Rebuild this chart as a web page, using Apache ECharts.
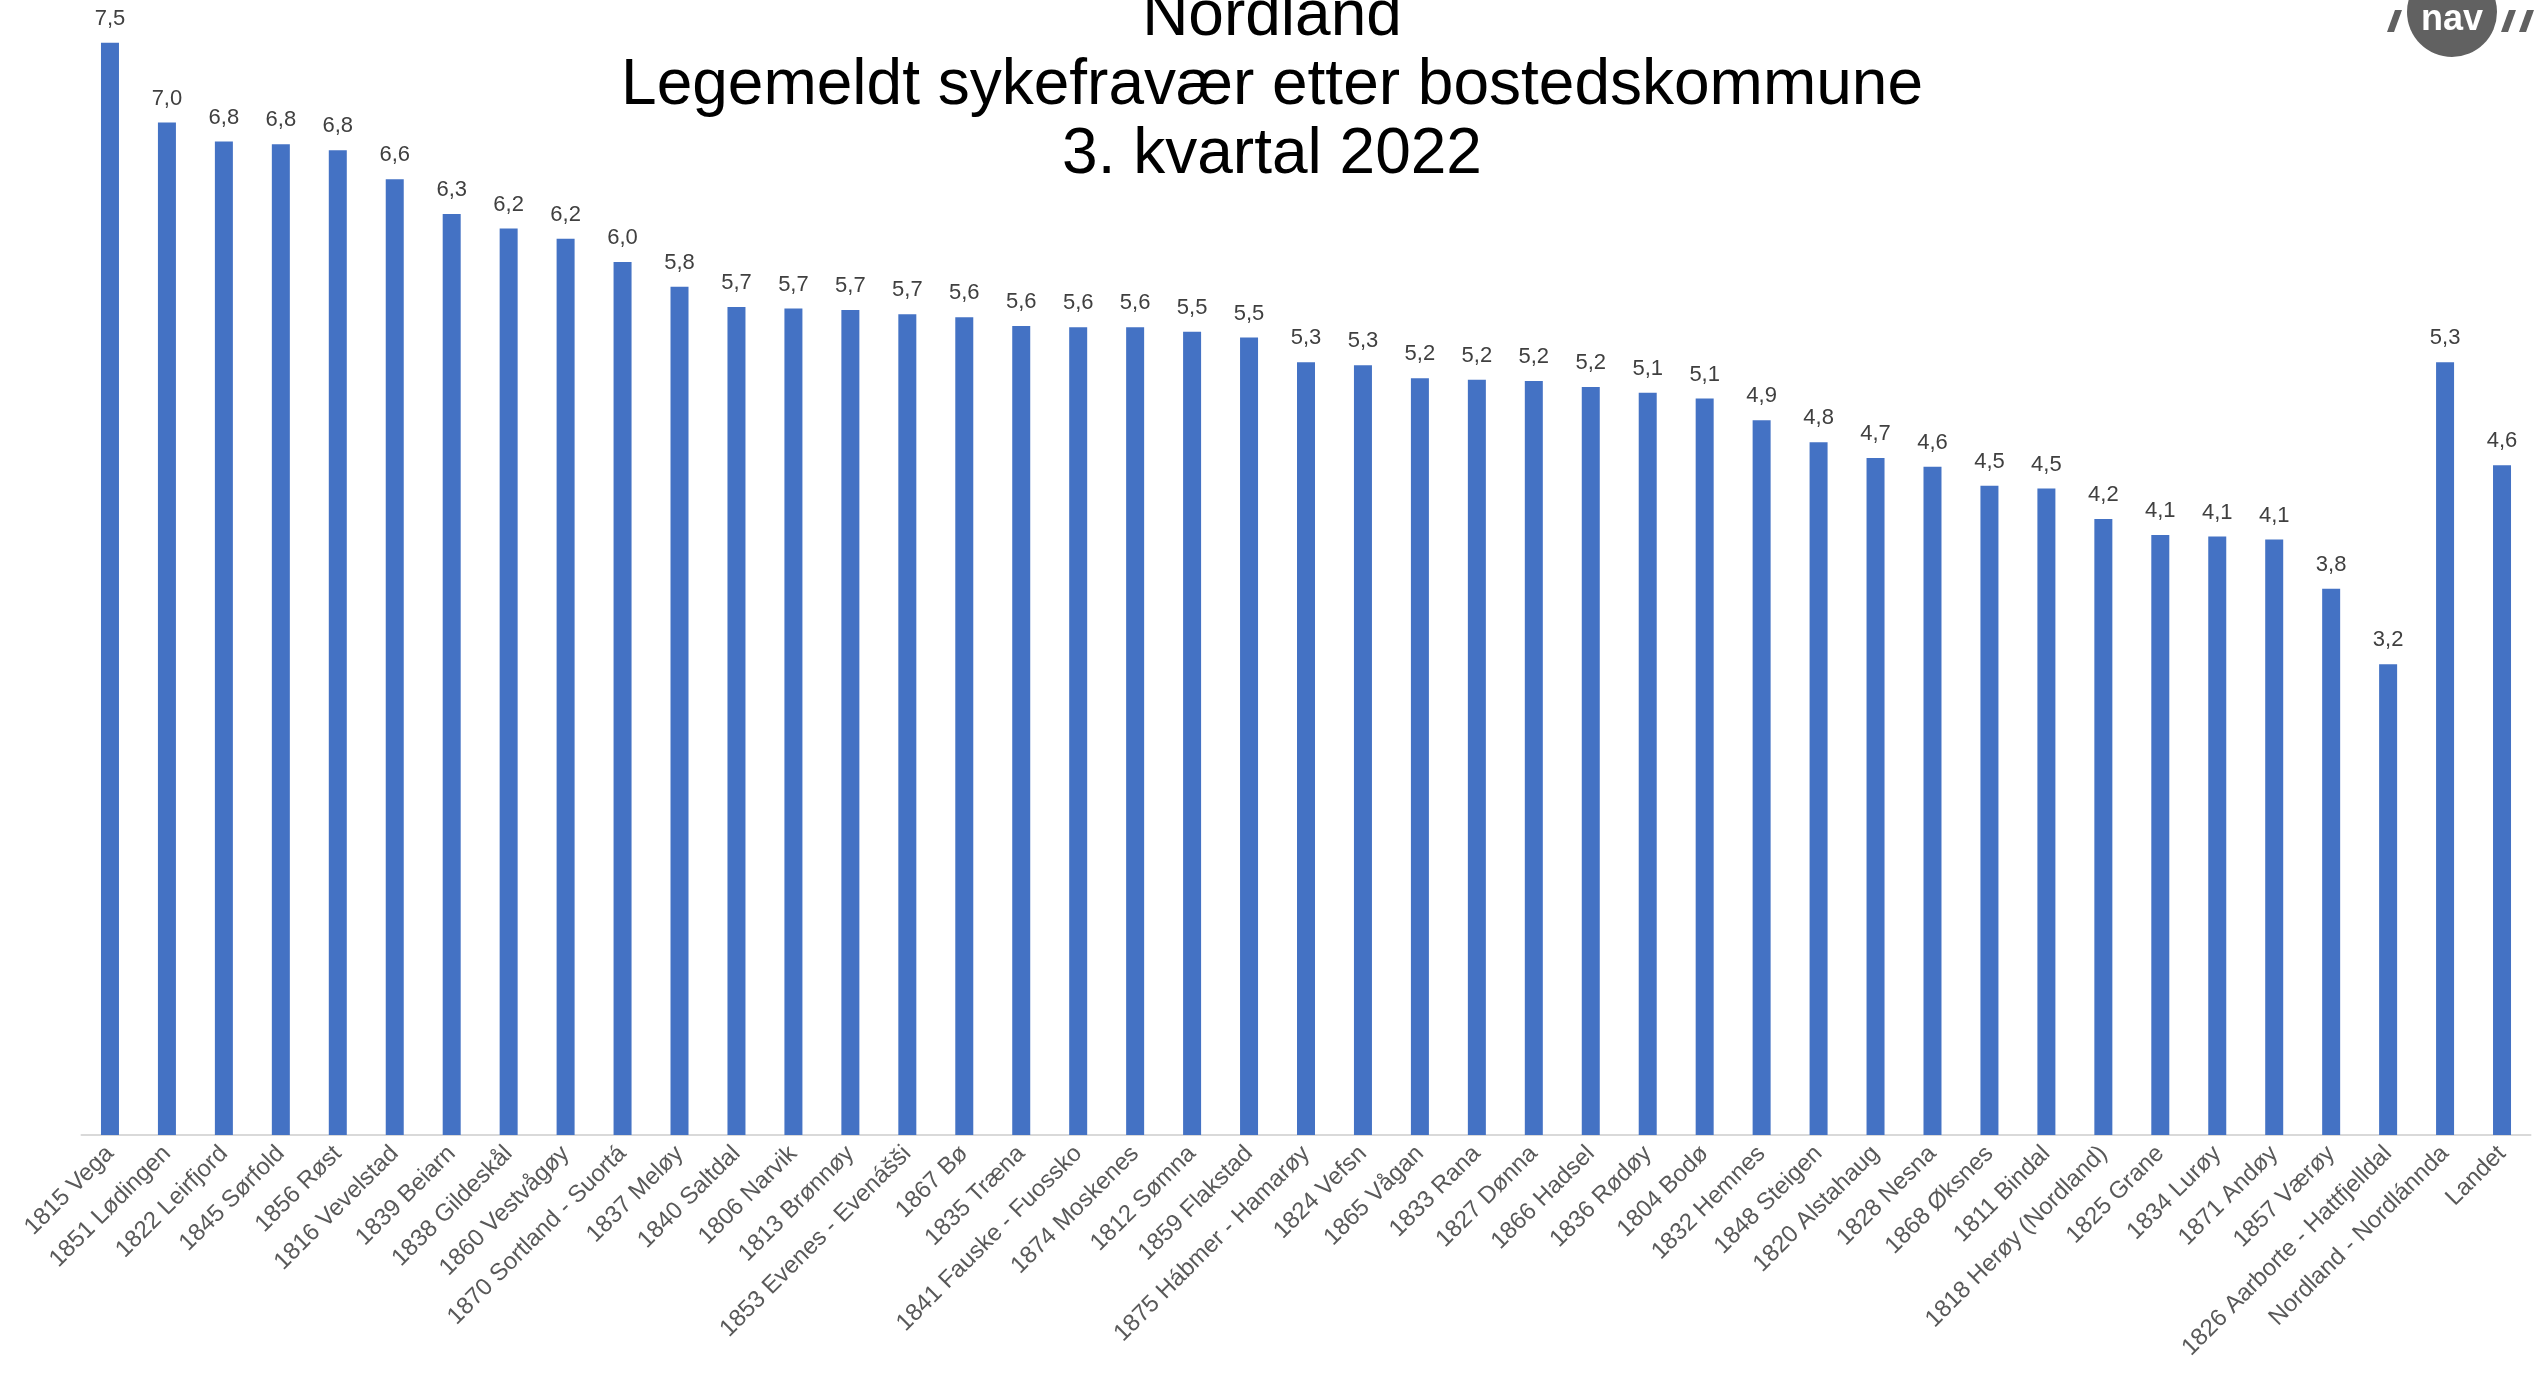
<!DOCTYPE html>
<html>
<head>
<meta charset="utf-8">
<title>Legemeldt sykefravær Nordland</title>
<script src="https://cdn.jsdelivr.net/npm/echarts@6/dist/echarts.min.js"></script>
<style>
  html, body { margin: 0; padding: 0; background: #fff; }
  #chart { width: 2539px; height: 1376px; }
</style>
</head>
<body>
<div id="chart"></div>
<script>
// kommuner (bostedskommune)
var kommuner = [
  "1815 Vega", "1851 Lødingen", "1822 Leirfjord", "1845 Sørfold", "1856 Røst",
  "1816 Vevelstad", "1839 Beiarn", "1838 Gildeskål", "1860 Vestvågøy", "1870 Sortland - Suortá",
  "1837 Meløy", "1840 Saltdal", "1806 Narvik", "1813 Brønnøy", "1853 Evenes - Evenášši",
  "1867 Bø", "1835 Træna", "1841 Fauske - Fuossko", "1874 Moskenes", "1812 Sømna",
  "1859 Flakstad", "1875 Hábmer - Hamarøy", "1824 Vefsn", "1865 Vågan", "1833 Rana",
  "1827 Dønna", "1866 Hadsel", "1836 Rødøy", "1804 Bodø", "1832 Hemnes",
  "1848 Steigen", "1820 Alstahaug", "1828 Nesna", "1868 Øksnes", "1811 Bindal",
  "1818 Herøy (Nordland)", "1825 Grane", "1834 Lurøy", "1871 Andøy", "1857 Værøy",
  "1826 Aarborte - Hattfjelldal", "Nordland - Nordlánnda", "Landet"
];

// sykefravær i prosent (lest av figuren)
var fravaer = [
  7.52, 6.97, 6.84, 6.82, 6.78,
  6.58, 6.34, 6.24, 6.17, 6.01,
  5.84, 5.70, 5.69, 5.68, 5.65,
  5.63, 5.57, 5.56, 5.56, 5.53,
  5.49, 5.32, 5.30, 5.21, 5.20,
  5.19, 5.15, 5.11, 5.07, 4.92,
  4.77, 4.66, 4.60, 4.47, 4.45,
  4.24, 4.13, 4.12, 4.10, 3.76,
  3.24, 5.32, 4.61
];

var tittel = "Nordland\nLegemeldt sykefravær etter bostedskommune\n3. kvartal 2022";

var myChart = echarts.init(document.getElementById("chart"));
myChart.setOption({
  animation: false,
  backgroundColor: "#ffffff",
  title: {
    text: tittel,
    left: 1267,
    textAlign: "center",
    top: -22,
    textStyle: {
      fontFamily: "Liberation Sans",
      fontSize: 64,
      fontWeight: "normal",
      lineHeight: 69,
      color: "#000000"
    }
  },
  grid: {
    left: 81.5,
    right: 8.5,
    top: 2,
    bottom: 241,
    containLabel: false
  },
  xAxis: {
    type: "category",
    data: kommuner,
    axisLine: { show: true, lineStyle: { color: "#D9D9D9", width: 2 } },
    axisTick: { show: false },
    axisLabel: {
      interval: 0,
      rotate: 45,
      margin: 15,
      fontFamily: "Liberation Sans",
      fontSize: 24,
      color: "#595959"
    }
  },
  yAxis: {
    type: "value",
    min: 0,
    max: 7.8,
    show: false,
    splitLine: { show: false }
  },
  series: [
    {
      type: "bar",
      data: fravaer,
      barWidth: 18,
      itemStyle: { color: "#4472C4" },
      label: {
        show: true,
        position: "top",
        distance: 13,
        fontFamily: "Liberation Sans",
        fontSize: 22,
        color: "#404040",
        formatter: function (p) {
          return p.value.toFixed(1).replace(".", ",");
        }
      }
    }
  ],
  // NAV-logo oppe til høyre
  graphic: [
    { type: "circle", shape: { cx: 2452, cy: 12, r: 45 }, style: { fill: "#616161" } },
    {
      type: "text",
      style: {
        x: 2452, y: 20, text: "nav", align: "center", verticalAlign: "middle",
        fontFamily: "Liberation Sans", fontSize: 36, fontWeight: "bold",
        fill: "#ffffff"
      }
    },
    { type: "polygon", shape: { points: [[2387, 32], [2394, 32], [2402, 10], [2395, 10]] }, style: { fill: "#616161" } },
    { type: "polygon", shape: { points: [[2501, 32], [2508, 32], [2516, 10], [2509, 10]] }, style: { fill: "#616161" } },
    { type: "polygon", shape: { points: [[2519, 32], [2526, 32], [2534, 10], [2527, 10]] }, style: { fill: "#616161" } }
  ]
});
</script>
</body>
</html>
